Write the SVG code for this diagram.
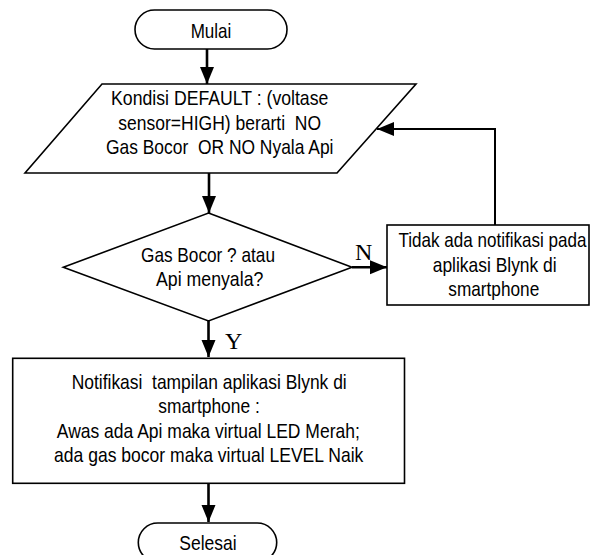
<svg xmlns="http://www.w3.org/2000/svg" width="591" height="555" viewBox="0 0 591 555">
<style>
.s{fill:#fff;stroke:#000;stroke-width:1.6}
.t{font-family:"Liberation Sans",Arial,sans-serif;font-size:21px;fill:#000;text-anchor:middle;white-space:pre}
.l{font-family:"Liberation Serif","Times New Roman",serif;font-size:24px;fill:#000}
.c{fill:none;stroke:#000;stroke-width:2.6}
</style>
<defs>
<marker id="ah" markerUnits="userSpaceOnUse" markerWidth="18" markerHeight="16" viewBox="0 0 18 16" refX="17" refY="8" orient="auto">
<path d="M0,1 L17,8 L0,15 Z" fill="#000"/>
</marker>
</defs>
<rect width="591" height="555" fill="#fff"/>
<g id="mulai">
<rect class="s" x="135" y="10" width="152" height="39" rx="19.5"/>
<text class="t" x="211" y="37.5" textLength="40.7" lengthAdjust="spacingAndGlyphs">Mulai</text>
</g>
<g id="default">
<polygon class="s" points="102,84 416,84 337,173 25,173"/>
<text class="t" x="219.7" y="105" textLength="217.3" lengthAdjust="spacingAndGlyphs">Kondisi DEFAULT : (voltase</text>
<text class="t" x="219.7" y="129.5" textLength="202.7" lengthAdjust="spacingAndGlyphs">sensor=HIGH) berarti  NO</text>
<text class="t" x="219.7" y="154" textLength="227.5" lengthAdjust="spacingAndGlyphs">Gas Bocor  OR NO Nyala Api</text>
</g>
<g id="decision">
<polygon class="s" points="208.5,213 352,267.3 208.5,321 63.3,267.3"/>
<text class="t" x="208" y="262" textLength="134" lengthAdjust="spacingAndGlyphs">Gas Bocor ? atau</text>
<text class="t" x="209.7" y="286" textLength="107.3" lengthAdjust="spacingAndGlyphs">Api menyala?</text>
</g>
<g id="no-notif">
<rect class="s" x="387" y="225" width="202" height="80"/>
<text class="t" x="492.5" y="246.5" textLength="188" lengthAdjust="spacingAndGlyphs">Tidak ada notifikasi pada</text>
<text class="t" x="494.7" y="271.5" textLength="124" lengthAdjust="spacingAndGlyphs">aplikasi Blynk di</text>
<text class="t" x="493.8" y="295.5" textLength="91" lengthAdjust="spacingAndGlyphs">smartphone</text>
</g>
<g id="notif">
<rect class="s" x="12.7" y="358.3" width="391.8" height="125"/>
<text class="t" x="209.2" y="388.5" textLength="275" lengthAdjust="spacingAndGlyphs">Notifikasi  tampilan aplikasi Blynk di</text>
<text class="t" x="209" y="413" textLength="101.5" lengthAdjust="spacingAndGlyphs">smartphone :</text>
<text class="t" x="208.3" y="437.5" textLength="303" lengthAdjust="spacingAndGlyphs">Awas ada Api maka virtual LED Merah;</text>
<text class="t" x="208.7" y="462" textLength="309.3" lengthAdjust="spacingAndGlyphs">ada gas bocor maka virtual LEVEL Naik</text>
</g>
<g id="selesai">
<rect class="s" x="138.3" y="523" width="138.4" height="39" rx="19.5"/>
<text class="t" x="208" y="550" textLength="57.4" lengthAdjust="spacingAndGlyphs">Selesai</text>
</g>
<g id="connectors">
<line class="c" x1="207" y1="49" x2="207" y2="84" marker-end="url(#ah)"/>
<line class="c" x1="209" y1="173" x2="209" y2="213" marker-end="url(#ah)"/>
<line class="c" x1="352" y1="267.3" x2="387" y2="267.3" marker-end="url(#ah)"/>
<path class="c" d="M495,225 V129 H377" marker-end="url(#ah)" style="stroke-width:2"/>
<line class="c" x1="208.5" y1="321" x2="208.5" y2="357" marker-end="url(#ah)"/>
<line class="c" x1="208.5" y1="483.3" x2="208.5" y2="522" marker-end="url(#ah)"/>
<text class="l" x="355" y="260">N</text>
<text class="l" x="225" y="349">Y</text>
</g>
</svg>
